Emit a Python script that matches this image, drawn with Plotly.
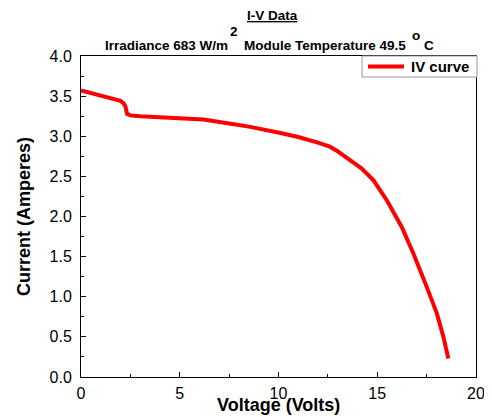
import plotly.graph_objects as go

# I-V curve
voltage = [0.0, 0.5, 1.0, 1.5, 2.0, 2.16, 2.25, 2.33, 2.5, 3.0, 4.0, 5.0, 6.2, 7.5, 8.5,
           10.1, 11.0, 12.0, 12.6, 12.95, 13.63, 14.2, 14.81, 15.49, 16.24, 16.83,
           17.51, 18.02, 18.35, 18.6]
current = [3.57, 3.54, 3.51, 3.47, 3.44, 3.41, 3.37, 3.28, 3.26, 3.25, 3.24, 3.23, 3.21, 3.16, 3.12,
           3.04, 2.99, 2.92, 2.87, 2.82, 2.70, 2.60, 2.45, 2.20, 1.87, 1.54,
           1.12, 0.79, 0.50, 0.23]

x_ticks = [0, 5, 10, 15, 20]
y_ticks = [0.0, 0.5, 1.0, 1.5, 2.0, 2.5, 3.0, 3.5, 4.0]
series_name = "IV curve"

FONT = "Liberation Sans, Arial, sans-serif"
OFF = 8  # page body margin in the browser
W, H = 492 - OFF, 417 - OFF
L, R, T, B = 81 - OFF, 16, 56 - OFF, 40
PW, PH = W - L - R, H - T - B


def px_x(px):
    # page pixel x -> paper x
    return (px - OFF - L) / PW


def px_y(py):
    # page pixel y -> paper y
    return (H - B - (py - OFF)) / PH


fig = go.Figure()
fig.add_trace(go.Scatter(x=voltage, y=current, mode="lines", name=series_name, showlegend=False,
                         line=dict(color="#ff0000", width=4)))

axis_common = dict(showline=True, linecolor="black", linewidth=1, mirror=True, automargin=False,
                   ticks="inside", ticklen=5, tickcolor="black", showgrid=False, zeroline=False,
                   tickfont=dict(family=FONT, size=16, color="black"))

fig.update_xaxes(range=[0, 20], tickvals=x_ticks, ticktext=[str(v) for v in x_ticks],
                 ticklabelstandoff=2,
                 minor=dict(ticks="inside", ticklen=3, dtick=2.5, tickcolor="black", showgrid=False),
                 **axis_common)
fig.update_yaxes(range=[0, 4], tickvals=y_ticks, ticktext=[f"{v:.1f}" for v in y_ticks],
                 ticklabelstandoff=5,
                 minor=dict(ticks="inside", ticklen=3, dtick=0.25, tickcolor="black", showgrid=False),
                 title=dict(text="<b>Current (Amperes)</b>", standoff=14,
                            font=dict(family=FONT, size=18, color="black")),
                 **axis_common)

title_font = dict(family=FONT, size=13.5, color="black")
ann = dict(xref="paper", yref="paper", yanchor="middle", showarrow=False, font=title_font)
fig.add_annotation(text="<b><u>I-V Data</u></b>", x=px_x(272), y=px_y(15.5), xanchor="center", **ann)
fig.add_annotation(text="<b>Irradiance 683 W/m</b>", x=px_x(230), y=px_y(45), xanchor="right", **ann)
fig.add_annotation(text="<b>2</b>", x=px_x(234), y=px_y(32), xanchor="center", **ann)
fig.add_annotation(text="<b>Module Temperature 49.5</b>", x=px_x(242), y=px_y(45), xanchor="left", **ann)
fig.add_annotation(text="<b>o</b>", x=px_x(416), y=px_y(35), xanchor="center", **ann)
fig.add_annotation(text="<b>C</b>", x=px_x(422), y=px_y(45), xanchor="left", **ann)

# x axis title placed tight under the tick labels, as in the original
fig.add_annotation(text="<b>Voltage (Volts)</b>", x=0.5, y=px_y(405), xref="paper", yref="paper",
                   xanchor="center", yanchor="middle", showarrow=False,
                   font=dict(family=FONT, size=18, color="black"))

# legend box drawn by hand so its height matches the original
fig.add_shape(type="rect", xref="paper", yref="paper", x0=px_x(362), x1=px_x(477),
              y0=px_y(77), y1=px_y(56), fillcolor="white", line=dict(color="#999999", width=1))
fig.add_shape(type="line", xref="paper", yref="paper", x0=px_x(368), x1=px_x(404),
              y0=px_y(66.5), y1=px_y(66.5), line=dict(color="#ff0000", width=4))
fig.add_annotation(text=f"<b>{series_name}</b>", x=px_x(409), y=px_y(66.5), xref="paper", yref="paper",
                   xanchor="left", yanchor="middle", showarrow=False,
                   font=dict(family=FONT, size=15, color="black"))

fig.update_layout(
    width=W, height=H,
    margin=dict(l=L, r=R, t=T, b=B),
    paper_bgcolor="white", plot_bgcolor="white",
    font=dict(family=FONT, color="black"),
    showlegend=False,
)

fig.write_html("out.html")
